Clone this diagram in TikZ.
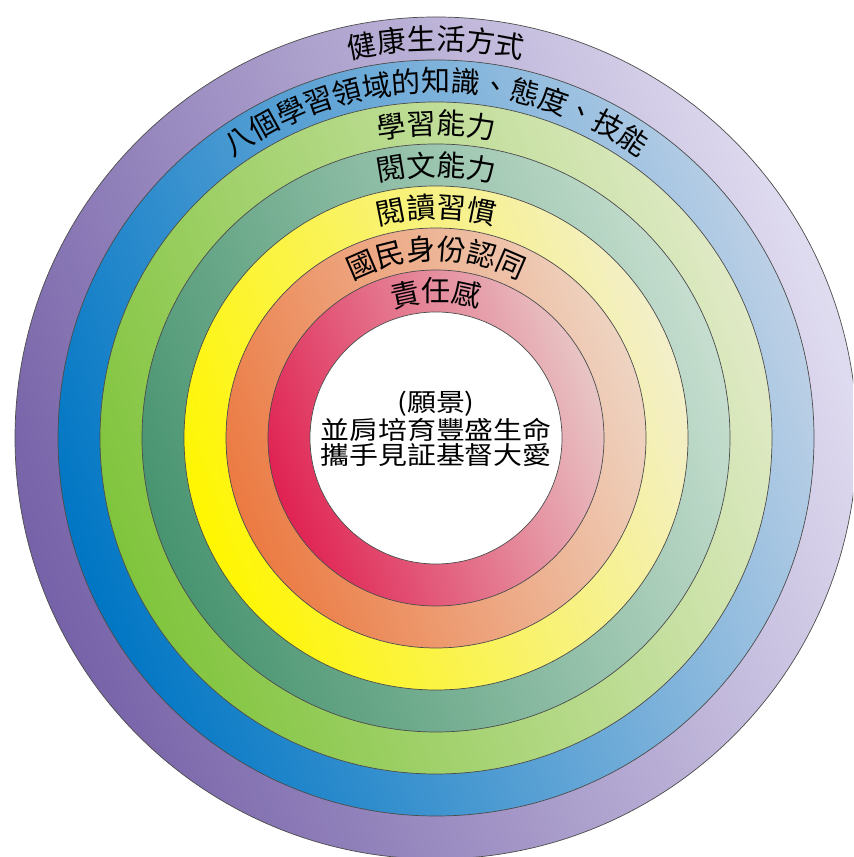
\documentclass[tikz,border=0pt]{standalone}
\usepackage{fontspec}
\setmainfont{Noto Sans CJK TC}
\newfontfamily\ringfont{Noto Sans CJK TC}
\newfontfamily\visionfont[FakeStretch=1.16]{Noto Sans CJK TC}
\usetikzlibrary{decorations.text}

\definecolor{purpleS}{RGB}{118,98,168}
\definecolor{purpleP}{RGB}{224,220,240}
\definecolor{blueS}{RGB}{0,118,196}
\definecolor{blueP}{RGB}{188,208,230}
\definecolor{lgreenS}{RGB}{128,196,60}
\definecolor{lgreenP}{RGB}{224,234,198}
\definecolor{dgreenS}{RGB}{72,148,112}
\definecolor{dgreenP}{RGB}{198,222,207}
\definecolor{yellowS}{RGB}{255,246,0}
\definecolor{yellowP}{RGB}{243,239,202}
\definecolor{orangeS}{RGB}{236,122,66}
\definecolor{orangeP}{RGB}{238,212,194}
\definecolor{redS}{RGB}{224,34,82}
\definecolor{redP}{RGB}{232,198,198}

\begin{document}
\begin{tikzpicture}[x=0.02cm, y=0.02cm,
    ring/.style 2 args={draw=black!70, line width=0.4pt,
        bottom color=#1, top color=#2, shading angle=-70},
    ringtext/.style={decorate, decoration={text along path, text align=center,
        text={|\ringfont\fontsize{16.5pt}{16.5pt}\selectfont|#1}}}]

    \useasboundingbox (0,0) rectangle (853,857);
    \clip (0,0) rectangle (853,857);

    % Centre of all the rings
    \coordinate (C) at (436,419);

    % Rings, outermost first
    \shade[ring={purpleS}{purpleP}] (C) circle[radius=421];
    \shade[ring={blueS}{blueP}] (C) circle[radius=378];
    \shade[ring={lgreenS}{lgreenP}] (C) circle[radius=336];
    \shade[ring={dgreenS}{dgreenP}] (C) circle[radius=294];
    \shade[ring={yellowS}{yellowP}] (C) circle[radius=252];
    \shade[ring={orangeS}{orangeP}] (C) circle[radius=210];
    \shade[ring={redS}{redP}] (C) circle[radius=168];
    \filldraw[fill=white, draw=black!70, line width=0.4pt] (C) circle[radius=126];

    % Labels along the top of each ring
    \path[ringtext=健康生活方式] (C) ++(180:388) arc[start angle=180, end angle=0, radius=388];
    \path[ringtext=八個學習領域的知識、態度、技能] (C) ++(180:346) arc[start angle=180, end angle=0, radius=346];
    \path[ringtext=學習能力] (C) ++(180:304) arc[start angle=180, end angle=0, radius=304];
    \path[ringtext=閱文能力] (C) ++(180:262) arc[start angle=180, end angle=0, radius=262];
    \path[ringtext=閱讀習慣] (C) ++(180:220) arc[start angle=180, end angle=0, radius=220];
    \path[ringtext=國民身份認同] (C) ++(180:178) arc[start angle=180, end angle=0, radius=178];
    \path[ringtext=責任感] (C) ++(180:136) arc[start angle=180, end angle=0, radius=136];

    % Vision in the middle
    \node[align=center, inner sep=0pt, font=\visionfont\fontsize{14.2pt}{14.2pt}\selectfont]
        (vision) at (436,428) {(願景)\\並肩培育豐盛生命\\攜手見証基督大愛};

\end{tikzpicture}
\end{document}
